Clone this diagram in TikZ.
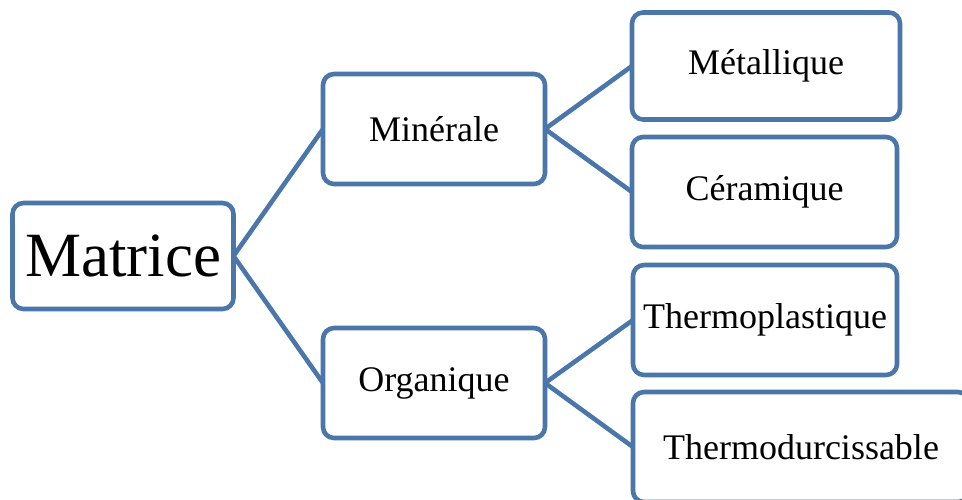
\documentclass[tikz,border=0pt]{standalone}
\usepackage{fontspec}
\setmainfont{Liberation Serif}
\definecolor{boxblue}{HTML}{4A76AA}
\begin{document}
\begin{tikzpicture}[x=1pt,y=-1pt,
  boxnode/.style={draw=boxblue, line width=4.6pt, rounded corners=11pt, fill=white,
    inner sep=0pt, outer sep=0pt, align=center, font=\fontsize{36}{40}\selectfont},
  link/.style={draw=boxblue, line width=4.6pt}]
\useasboundingbox (0,0) rectangle (962,499);
\clip (0,0) rectangle (962,499);
\node[boxnode, minimum width=221pt, minimum height=106pt, font=\fontsize{63}{70}\selectfont] (mat) at (123,256) {Matrice};
\node[boxnode, minimum width=222pt, minimum height=110pt] (min) at (434,129) {Minérale};
\node[boxnode, minimum width=222pt, minimum height=110pt] (org) at (434,383) {Organique};
\node[boxnode, minimum width=268pt, minimum height=107pt] (met) at (766,66) {Métallique};
\node[boxnode, minimum width=265pt, minimum height=110pt] (cer) at (764.5,192) {Céramique};
\node[boxnode, minimum width=264pt, minimum height=110pt] (thp) at (765,320) {Thermoplastique};
\node[boxnode, minimum width=336pt, minimum height=110pt] (thd) at (801,447) {Thermodurcissable};
\draw[link] (mat.east) -- (min.west);
\draw[link] (mat.east) -- (org.west);
\draw[link] (min.east) -- (met.west);
\draw[link] (min.east) -- (cer.west);
\draw[link] (org.east) -- (thp.west);
\draw[link] (org.east) -- (thd.west);
\end{tikzpicture}
\end{document}
